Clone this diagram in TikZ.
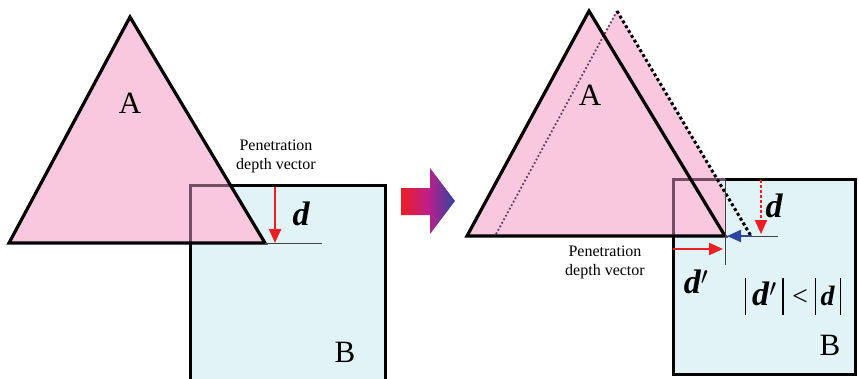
\documentclass[tikz,border=0pt]{standalone}
\usepackage{fontspec}
\setmainfont{Liberation Serif}
\usetikzlibrary{arrows.meta}
\definecolor{pinkA}{RGB}{247,200,222}
\definecolor{cyanB}{RGB}{226,243,247}
\definecolor{redv}{RGB}{237,30,36}
\definecolor{bluev}{RGB}{46,70,160}
\definecolor{purv}{RGB}{190,30,140}
\definecolor{ghostline}{RGB}{110,60,95}
\definecolor{overlapline}{RGB}{118,78,100}
\newcommand{\absbar}{\raisebox{-9pt}{\rule{1.1pt}{37pt}}}
\begin{document}
\begin{tikzpicture}[x=1pt,y=-1pt,
 tri/.style={line width=3.2pt, line join=miter},
 boxo/.style={line width=3pt},
 thinln/.style={line width=1pt, black!75},
 redarrow/.style={redv, line width=2.2pt, -{Triangle[length=14pt,width=12pt]}},
 bluearrow/.style={bluev, line width=2.2pt, -{Triangle[length=14pt,width=12pt]}},
 lab/.style={font=\fontsize{31}{31}\selectfont, inner sep=0pt},
 vec/.style={font=\fontsize{34}{34}\selectfont\bfseries\itshape, inner sep=0pt},
 note/.style={font=\fontsize{16}{19}\selectfont, align=center, inner sep=0pt}]
\useasboundingbox (0,0) rectangle (859,378);

% ---------- left panel ----------
\coordinate (LA1) at (130,17);
\coordinate (LA2) at (9,243);
\coordinate (LA3) at (265,243);
\fill[cyanB] (190,185) rectangle (385,382);
\fill[pinkA] (LA1) -- (LA2) -- (LA3) -- cycle;
\draw[boxo] (230,185) -- (385,185) -- (385,382);
\draw[boxo] (190,243) -- (190,382);
\draw[boxo, overlapline] (190,243) -- (190,185) -- (230,185);
\draw[tri] (LA1) -- (LA2) -- (LA3) -- cycle;
\coordinate (Lline) at (322,243);
\draw[thinln] (LA3) -- (Lline);
\coordinate (Ldtop) at (275,187);
\coordinate (Ldbot) at (275,243);
\draw[redarrow] (Ldtop) -- (Ldbot);
\node[vec] (Ld) at (301,214) {d};
\node[lab] (LAl) at (130,103) {A};
\node[lab] (LBl) at (345,352) {B};
\node[note] (Lnote) at (276,156) {Penetration\\depth vector};

% ---------- transition arrow ----------
\shade[left color=redv, right color=bluev, middle color=purv]
  (401,188) -- (430,188) -- (430,168) -- (455,201) -- (430,234) -- (430,215) -- (401,215) -- cycle;

% ---------- right panel ----------
\coordinate (RA1) at (589,11);
\coordinate (RA2) at (467,236);
\coordinate (RA3) at (725,236);
\coordinate (GA1) at (617,11);
\coordinate (GA2) at (495,236);
\coordinate (GA3) at (751,236);
\fill[cyanB] (673,179) rectangle (855,374);
\fill[pinkA] (GA1) -- (GA2) -- (GA3) -- cycle;
\fill[pinkA] (RA1) -- (RA2) -- (RA3) -- cycle;
\fill[cyanB] (725,179) rectangle (800,236);
\draw[boxo] (725,179) -- (855,179) -- (855,374) -- (673,374) -- (673,236);
\draw[boxo, overlapline] (673,236) -- (673,179) -- (725,179);
\draw[ghostline, line width=1.8pt, dash pattern=on 1.8pt off 2.2pt] (GA1) -- (GA2);
\draw[line width=3pt, dash pattern=on 3pt off 2.6pt] (GA1) -- (GA3);
\draw[tri] (RA1) -- (RA2) -- (RA3) -- cycle;
\coordinate (Rvtop) at (725,179);
\coordinate (Rvbot) at (725,265);
\draw[thinln] (Rvtop) -- (Rvbot);
\coordinate (Rhend) at (778,236);
\draw[thinln] (RA3) -- (Rhend);
\coordinate (Rr1) at (673,249);
\coordinate (Rr2) at (723,249);
\draw[redarrow] (Rr1) -- (Rr2);
\coordinate (Rb1) at (752,236);
\coordinate (Rb2) at (727,236);
\draw[bluearrow] (Rb1) -- (Rb2);
\coordinate (Rd1) at (761,180);
\coordinate (Rd2) at (761,234);
\draw[redv, line width=2pt, dash pattern=on 2.5pt off 2.5pt, -{Triangle[length=14pt,width=12pt]}] (Rd1) -- (Rd2);
\node[vec] (Rd) at (774,206) {d};
\node[vec] (Rdp) at (696,282) {d$'$};
\node[inner sep=0pt, font=\fontsize{34}{34}\selectfont] (Rineq) at (793,296)
  {\absbar\,\textbf{\textit{d}}$'$\,\absbar\ \fontsize{28}{28}\selectfont<\ \absbar\,\textbf{\textit{d}}\,\absbar};
\node[lab] (RAl) at (590,95) {A};
\node[lab] (RBl) at (830,345) {B};
\node[note] (Rnote) at (605,262) {Penetration\\depth vector};
\end{tikzpicture}
\end{document}
